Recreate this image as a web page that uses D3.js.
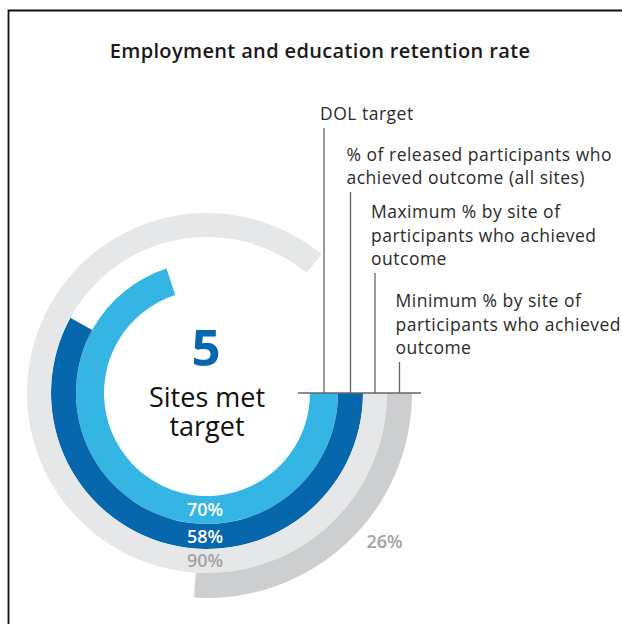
<!DOCTYPE html>
<html><head><meta charset="utf-8">
<script src="https://cdn.jsdelivr.net/npm/d3@7"></script>
<style>html,body{margin:0;padding:0;background:#fff;}svg{display:block;}</style>
</head><body>
<script>
// ---- data ----
const series = ["DOL target", "% of released participants who achieved outcome (all sites)", "Maximum % by site of participants who achieved outcome", "Minimum % by site of participants who achieved outcome"];
const values = [70, 58, 90, 26];          // printed values
const arcValues = [70, 58, 86, 26];       // arc extents as drawn in the picture
const labelLines = [
  ["DOL target"],
  ["% of released participants who", "achieved outcome (all sites)"],
  ["Maximum % by site of", "participants who achieved", "outcome"],
  ["Minimum % by site of", "participants who achieved", "outcome"]
];
const valueLabels = ["70%", "58%", "90%", "26%"];
const sitesMet = 5;
const centerLines = ["Sites met", "target"];
const title = "Employment and education retention rate";

// ---- layout ----
const W = 622, H = 624;
const cx = 207, cy = 393;
const ringEdges = [103, 131, 156, 180, 205];
const colors = ["#35b5e3", "#0767ad", "#e6e7e8", "#cdcecf"];
const labelColors = ["#ffffff", "#ffffff", "#a3a3a3", "#a3a3a3"];
const FONT = "'Open Sans', Lato, sans-serif";

const svg = d3.select("body").append("svg").attr("width", W).attr("height", H);

// frame (top & left edges)
svg.append("path").attr("d", `M8.5,${H} V10.5 H${W}`).attr("fill", "none").attr("stroke", "#111").attr("stroke-width", 1.8);

svg.append("text").attr("x", 320).attr("y", 58).attr("text-anchor", "middle")
  .attr("font-family", FONT).attr("font-weight", 600).attr("font-size", 20).attr("letter-spacing", 0.35)
  .attr("fill", "#1a1a1a").text(title);

const angle = d3.scaleLinear().domain([0, 100]).range([Math.PI / 2, Math.PI / 2 + 2 * Math.PI]);
const arc = d3.arc();
const g = svg.append("g").attr("transform", `translate(${cx},${cy})`);

arcValues.forEach((v, i) => {
  g.append("path").attr("d", arc({
    innerRadius: ringEdges[i], outerRadius: ringEdges[i + 1],
    startAngle: angle(0), endAngle: angle(v)
  })).attr("fill", colors[i]);
});

// leader lines + labels
const lineTops = [128, 192, 273, 362];
const lineH = 23.5;
g.append("line").attr("x1", 298 - cx).attr("x2", 421 - cx).attr("y1", 0).attr("y2", 0)
  .attr("stroke", "#666").attr("stroke-width", 1.3);
values.forEach((v, i) => {
  const rm = (ringEdges[i] + ringEdges[i + 1]) / 2;
  const top = lineTops[i] - cy;
  g.append("line").attr("x1", rm).attr("x2", rm).attr("y1", 0).attr("y2", top)
    .attr("stroke", "#666").attr("stroke-width", 1.3);
  const lines = labelLines[i];
  const t = g.append("text").attr("font-family", FONT).attr("font-size", 17.5)
    .attr("letter-spacing", 0.5).attr("fill", "#2b2b2b");
  lines.forEach((l, j) => {
    t.append("tspan").attr("x", rm - 4).attr("y", top - 8 - (lines.length - 1 - j) * lineH).text(l);
  });
});

// value labels
values.forEach((v, i) => {
  const rm = (ringEdges[i] + ringEdges[i + 1]) / 2;
  let x = 0, y = rm;
  if (i === 3) { const a = Math.PI * 0.72; x = 233 * Math.sin(a); y = -233 * Math.cos(a); }
  g.append("text").attr("x", x - 2).attr("y", y + 6).attr("text-anchor", "middle")
    .attr("font-family", FONT).attr("font-weight", 600).attr("font-size", 18)
    .attr("fill", labelColors[i]).text(valueLabels[i]);
});

// center text
g.append("text").attr("x", -1).attr("y", 366 - cy).attr("text-anchor", "middle")
  .attr("font-family", FONT).attr("font-weight", 700).attr("font-size", 51).attr("fill", "#0767ad")
  .text(sitesMet);
centerLines.forEach((l, j) => {
  g.append("text").attr("x", 0).attr("y", 407 - cy + j * 29).attr("text-anchor", "middle")
    .attr("font-family", FONT).attr("font-size", 27).attr("fill", "#111").text(l);
});
</script>
</body></html>
